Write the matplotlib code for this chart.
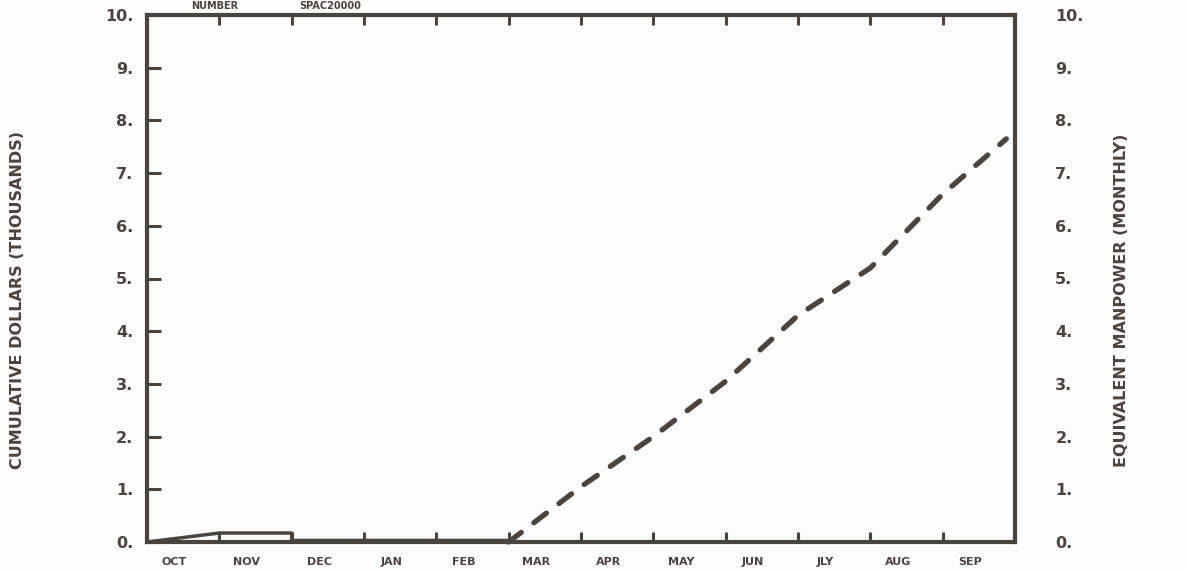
import matplotlib
matplotlib.use("Agg")
import matplotlib.pyplot as plt

# ---- data ----
months = ["OCT", "NOV", "DEC", "JAN", "FEB", "MAR", "APR", "MAY", "JUN", "JLY", "AUG", "SEP"]
y_ticks = [0, 1, 2, 3, 4, 5, 6, 7, 8, 9, 10]
y_labels = ["0.", "1.", "2.", "3.", "4.", "5.", "6.", "7.", "8.", "9.", "10."]

# dashed series (month index along axis, value)
dash_x = [5.0, 6.0, 7.0, 8.0, 9.0, 10.0, 11.0, 11.88]
dash_y = [0.0, 1.05, 2.0, 3.05, 4.3, 5.2, 6.6, 7.65]

# solid series near the bottom
solid_x = [0.0, 1.0, 2.0, 2.0, 5.0]
solid_y = [0.0, 0.17, 0.17, 0.03, 0.03]

# NOV bar
bar_x = [1.0]
bar_h = [0.17]

ink = "#4a443f"
bg = "#fcfcfa"

fig = plt.figure(figsize=(11.88, 5.71), dpi=100, facecolor=bg)
ax = fig.add_axes([147 / 1188, 29 / 571, 868 / 1188, 527 / 571])
ax.set_facecolor(bg)
ax.set_xlim(0, 12)
ax.set_ylim(0, 10)

for s in ax.spines.values():
    s.set_color(ink)
    s.set_linewidth(3.0)

# dashed line
ax.plot(dash_x, dash_y, color=ink, lw=3.8, dashes=(3.0, 3.0), dash_capstyle="round",
        solid_capstyle="round", clip_on=False)
# solid line and bar
ax.plot(solid_x, solid_y, color=ink, lw=2.5)
ax.bar(bar_x, bar_h, width=1.0, align="edge", facecolor="none", edgecolor=ink, lw=1.5)

# x ticks: marks at month boundaries, labels at month centres
ax.set_xticks(list(range(1, 12)))
ax.set_xticklabels([])
ax.set_xticks([i + 0.38 for i in range(12)], minor=True)
ax.set_xticklabels(months, minor=True, fontsize=8, fontweight="bold", color=ink)
ax.tick_params(axis="x", which="minor", length=0, pad=11)
ax.tick_params(axis="x", which="major", direction="in", length=7, width=2.2, color=ink,
               top=True, bottom=True)

# y ticks both sides
ax.set_yticks(y_ticks)
ax.set_yticklabels(y_labels, fontsize=11.5, fontweight="bold", color=ink)
ax.tick_params(axis="y", direction="in", length=10, width=2.2, color=ink,
               left=True, right=True, labelleft=True, labelright=False, pad=10)

ax2 = ax.twinx()
ax2.set_ylim(0, 10)
ax2.set_yticks(y_ticks)
ax2.set_yticklabels(y_labels, fontsize=11.5, fontweight="bold", color=ink)
ax2.tick_params(axis="y", direction="in", length=0, pad=29)
for lab in ax2.get_yticklabels():
    lab.set_horizontalalignment("left")
for s in ax2.spines.values():
    s.set_visible(False)

fig.text(18 / 1188, 1 - 300 / 571, "CUMULATIVE DOLLARS (THOUSANDS)", rotation=90,
         ha="center", va="center", fontsize=11.5, fontweight="bold", color=ink)
fig.text(1122 / 1188, 1 - 300 / 571, "EQUIVALENT MANPOWER (MONTHLY)", rotation=90,
         ha="center", va="center", fontsize=11.5, fontweight="bold", color=ink)

fig.text(215 / 1188, 1 - 1 / 571, "NUMBER", ha="center", va="top", fontsize=7,
         fontweight="bold", color=ink)
fig.text(330 / 1188, 1 - 1 / 571, "SPAC20000", ha="center", va="top", fontsize=7,
         fontweight="bold", color=ink)

fig.savefig("out.png", dpi=100, facecolor=bg)
